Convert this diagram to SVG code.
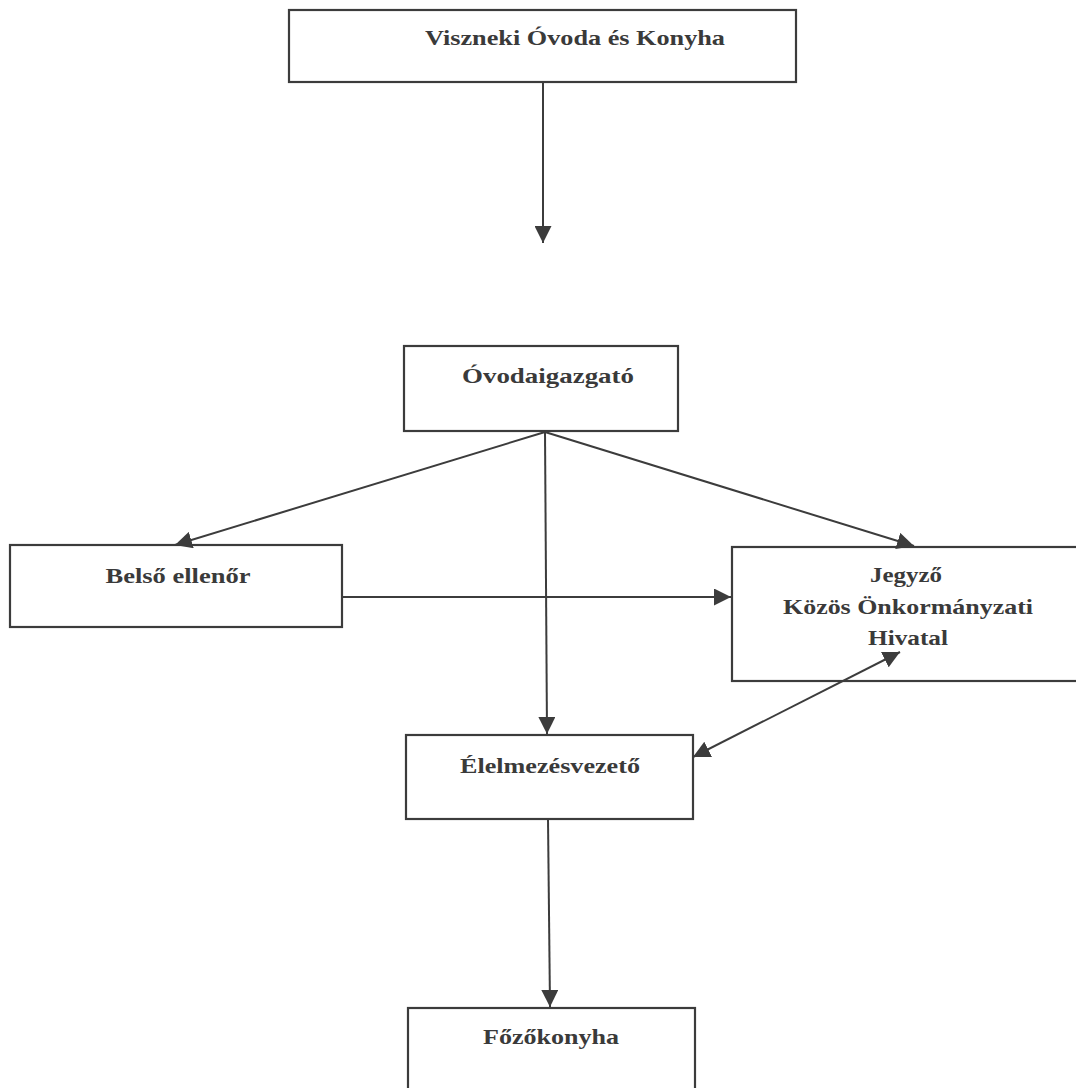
<svg xmlns="http://www.w3.org/2000/svg" width="1076" height="1088" viewBox="0 0 1076 1088">
<style>
.box{fill:#fff;stroke:#3c3c3c;stroke-width:2.2}
.lbl{font-family:"Liberation Serif","Times New Roman",serif;font-weight:bold;font-size:22px;fill:#3a3a3a;text-anchor:middle}
.edge{stroke:#3c3c3c;stroke-width:2;fill:none}
</style>
<defs>
<marker id="ah" markerUnits="userSpaceOnUse" markerWidth="17" markerHeight="17" viewBox="0 0 17 17" refX="17" refY="8.5" orient="auto-start-reverse">
<path d="M0,0 L17,8.5 L0,17 Z" fill="#3c3c3c"/>
</marker>
</defs>
<rect width="1076" height="1088" fill="#fff"/>
<g id="node-viszneki">
<rect class="box" x="289" y="10" width="507" height="72"/>
<text class="lbl" x="575" y="45" textLength="300" lengthAdjust="spacingAndGlyphs">Viszneki Óvoda és Konyha</text>
</g>
<g id="node-ovodaigazgato">
<rect class="box" x="404" y="346" width="274" height="85"/>
<text class="lbl" x="548" y="383" textLength="172" lengthAdjust="spacingAndGlyphs">Óvodaigazgató</text>
</g>
<g id="node-belso">
<rect class="box" x="10" y="545" width="332" height="82"/>
<text class="lbl" x="178" y="583" textLength="145" lengthAdjust="spacingAndGlyphs">Belső ellenőr</text>
</g>
<g id="node-jegyzo">
<rect class="box" x="732" y="547" width="360" height="134"/>
<text class="lbl" x="906" y="582" textLength="72" lengthAdjust="spacingAndGlyphs">Jegyző</text>
<text class="lbl" x="908" y="614" textLength="250" lengthAdjust="spacingAndGlyphs">Közös Önkormányzati</text>
<text class="lbl" x="908" y="645" textLength="80" lengthAdjust="spacingAndGlyphs">Hivatal</text>
</g>
<g id="node-elelmezes">
<rect class="box" x="406" y="735" width="287" height="84"/>
<text class="lbl" x="550" y="773" textLength="180" lengthAdjust="spacingAndGlyphs">Élelmezésvezető</text>
</g>
<g id="node-fozokonyha">
<rect class="box" x="408" y="1008" width="287" height="100"/>
<text class="lbl" x="551" y="1044" textLength="136" lengthAdjust="spacingAndGlyphs">Főzőkonyha</text>
</g>
<g id="connectors">
<line class="edge" x1="543" y1="82" x2="543" y2="243" marker-end="url(#ah)"/>
<line class="edge" x1="545" y1="432" x2="175" y2="545" marker-end="url(#ah)"/>
<line class="edge" x1="545" y1="432" x2="914" y2="546" marker-end="url(#ah)"/>
<line class="edge" x1="545" y1="432" x2="547" y2="734" marker-end="url(#ah)"/>
<line class="edge" x1="342" y1="597" x2="731" y2="597" marker-end="url(#ah)"/>
<line class="edge" x1="693" y1="757" x2="900" y2="652" marker-start="url(#ah)" marker-end="url(#ah)"/>
<line class="edge" x1="548" y1="819" x2="550" y2="1007" marker-end="url(#ah)"/>
</g>
</svg>
